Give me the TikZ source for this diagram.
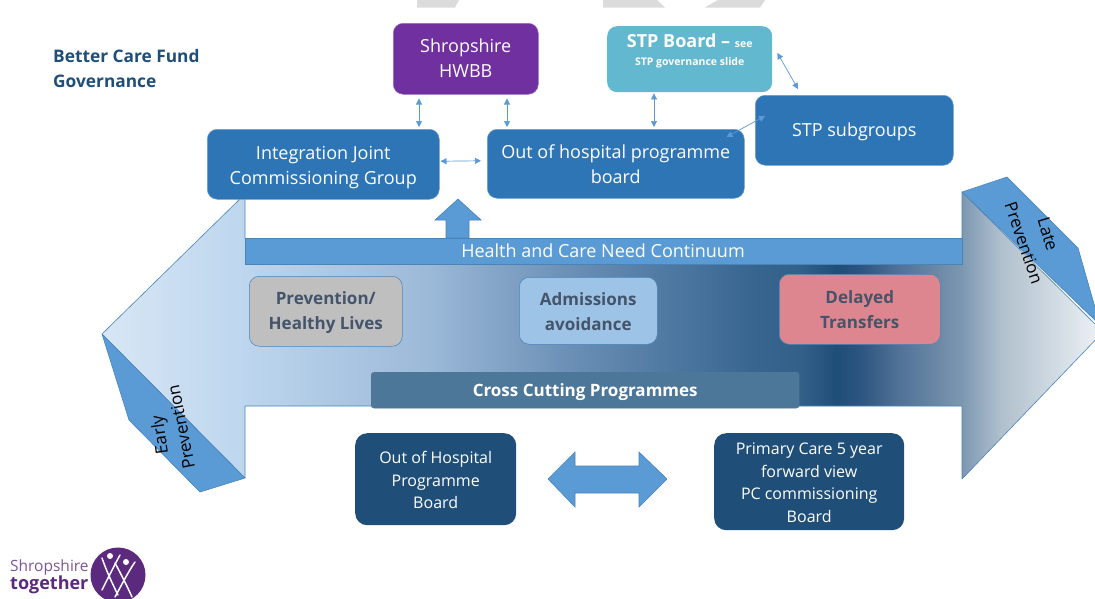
\documentclass[tikz,border=0pt]{standalone}
\usepackage{fontspec}
\setmainfont{Open Sans}
\usetikzlibrary{arrows.meta,calc}
\definecolor{midblue}{HTML}{2E75B6}
\definecolor{skyblue}{HTML}{5B9BD5}
\definecolor{navy}{HTML}{1F4E79}
\definecolor{hwbbpurple}{HTML}{7030A0}
\definecolor{stpteal}{HTML}{62B8CE}
\definecolor{logopurple}{HTML}{5B2A7E}
\definecolor{dull}{HTML}{44546A}
\definecolor{softgrey}{HTML}{BFBFBF}
\definecolor{softblue}{HTML}{9DC3E6}
\definecolor{softred}{HTML}{DE868F}
\definecolor{crossblue}{HTML}{4C7799}
\definecolor{sA}{HTML}{D8E6F4}
\definecolor{sB}{HTML}{BDD6EE}
\definecolor{sC}{HTML}{9CB9D8}
\definecolor{sD}{HTML}{6C90B6}
\definecolor{sE}{HTML}{386690}
\definecolor{sF}{HTML}{336089}
\definecolor{sG}{HTML}{1F4E79}
\definecolor{sH}{HTML}{2C5580}
\definecolor{sI}{HTML}{4F7196}
\definecolor{sJ}{HTML}{7B97B0}
\definecolor{sK}{HTML}{B0C0CD}
\definecolor{sL}{HTML}{EEF2F6}
\pgfdeclarehorizontalshading{bandshade}{100bp}{
 color(0bp)=(sA);
 color(25bp)=(sA);
 color(32.1bp)=(sB);
 color(41.3bp)=(sC);
 color(48.2bp)=(sD);
 color(57.4bp)=(sE);
 color(59.9bp)=(sF);
 color(61.7bp)=(sG);
 color(62.9bp)=(sH);
 color(64.7bp)=(sI);
 color(67.9bp)=(sJ);
 color(69.9bp)=(sK);
 color(75bp)=(sL);
 color(100bp)=(sL)}
\tikzset{
 x=1pt,y=-1pt,
 box/.style={rounded corners=10pt,draw=#1!70!white,line width=.5pt,fill=#1,inner sep=0pt,anchor=north west},
 boxtext/.style={text=white,align=center,inner sep=0pt,font=\fontsize{18}{25}\selectfont},
 softbox/.style={rounded corners=10pt,draw=skyblue!70!navy,line width=.5pt,fill=#1,inner sep=0pt,anchor=north west},
 softtext/.style={text=dull,align=center,inner sep=0pt,font=\fontsize{17}{25}\selectfont\bfseries},
 fold/.style={fill=skyblue,draw=skyblue!70!navy,line width=.6pt,line join=round},
 sidelabel/.style={font=\fontsize{17}{25}\selectfont,text=black,align=center,inner sep=0pt},
 link/.style={draw=skyblue,line width=.7pt,{Triangle[width=6pt,length=6pt]}-{Triangle[width=6pt,length=6pt]}},
 ghost/.style={fill=black!14,draw=none},
 blockarrow/.style={fill=skyblue,draw=skyblue!70!navy,line width=.6pt},
 darkbox/.style={rounded corners=12pt,fill=navy,inner sep=0pt,anchor=north west},
 darktext/.style={text=white,align=center,inner sep=0pt,font=\fontsize{16}{22.5}\selectfont}
}
\newcommand{\boxnode}[6]{\node[#1,minimum width=#4pt-#2pt,minimum height=#5pt-#3pt] (#6) at (#2,#3) {};}
\begin{document}
\begin{tikzpicture}
\useasboundingbox (0,0) rectangle (1095,598);
\clip (0,0) rectangle (1095,598);
\fill[white] (0,0) rectangle (1095,598);
% ghost shapes at the top edge
\fill[ghost] (417,0) -- (459,0) -- (455,7.5) -- (417,7.5) -- cycle;
\fill[ghost] (603,0) -- (657,0) -- (665,7.5) -- (603,7.5) -- cycle;
\fill[ghost] (718,0) -- (765,0) -- (760,7.5) -- (705,7.5) -- cycle;
% main double arrow
\shade[shading=bandshade,draw=none] (102,334) -- (245,194) -- (245,238) -- (962,238) -- (962,192) -- (1103,332) -- (962,479) -- (962,406) -- (245,406) -- (245,478) -- cycle;
\draw[skyblue!70!navy,line width=.6pt,line join=round] (102,334) -- (245,194) -- (245,238) (245,406) -- (245,478) -- (102,334) (962,238) -- (962,192) -- (1103,332) -- (962,479) -- (962,406) (245,406) -- (372,406) (799,406) -- (962,406);
% folded ends
\path[fold] (102,334) -- (129,420) -- (200,492) -- (245,478) -- cycle;
\path[fold] (962,192) -- (1007,177) -- (1078,248) -- (1100,325) -- cycle;
\node[sidelabel,rotate=98] (earlyt) at (161,435) {Early};
\node[sidelabel,rotate=101] (prevt) at (181,427) {Prevention};
\node[sidelabel,rotate=-73] (latel) at (1048,234) {Late};
\node[sidelabel,rotate=-71] (prevr) at (1024,243) {Prevention};
% band and up arrow
\path[blockarrow] (458,199) -- (481,220) -- (469,220) -- (469,238) -- (446,238) -- (446,220) -- (435,220) -- cycle;
\path[blockarrow] (245,238) rectangle (962,264);
\node[boxtext] (need) at (603,251) {Health and Care Need Continuum};
% title
\node[anchor=north west,align=left,inner sep=0pt,text=navy,font=\fontsize{17.3}{25}\selectfont\bfseries] (title) at (53,49.5) {Better Care Fund\\Governance};
% upper boxes
\boxnode{box=hwbbpurple}{393}{23}{538}{94}{hwbb}
\node[boxtext] (hwbbt) at ($(hwbb.center)+(0,-1)$) {Shropshire\\HWBB};
\boxnode{box=midblue}{207}{129}{439}{199}{ijcg}
\node[boxtext] (ijcgt) at ($(ijcg.center)+(0,3)$) {Integration Joint\\Commissioning Group};
\boxnode{box=midblue}{487}{129}{744}{198}{oohpb}
\node[boxtext] (oohpbt) at (oohpb.center) {Out of hospital programme\\board};
\boxnode{box=midblue}{755}{95}{953}{165}{subg}
\node[boxtext] (subgt) at ($(subg.center)+(0,2)$) {STP subgroups};
\node[rounded corners=10pt,fill=stpteal,minimum width=165pt,minimum height=66pt,anchor=north west,inner sep=0pt] (stp) at (607,26) {};
\node[text=white,align=center,inner sep=0pt,font=\bfseries\fontsize{18}{20}\selectfont] (stpt) at ($(stp.center)+(0,-8)$) {STP Board -- {\fontsize{10.5}{20}\selectfont see}\\[-2pt]{\fontsize{10.5}{12}\selectfont STP governance slide}};
% mid boxes
\boxnode{softbox=softgrey}{249}{276}{402}{346}{prev}
\node[softtext] (prevx) at ($(prev.center)+(0,1.5)$) {Prevention/\\Healthy Lives};
\boxnode{softbox=softblue}{519}{277}{657}{344}{adm}
\node[softtext] (admx) at ($(adm.center)+(0,1)$) {Admissions\\avoidance};
\boxnode{softbox=softred}{779}{274}{940}{344}{dtoc}
\node[softtext] (dtocx) at (dtoc.center) {Delayed\\Transfers};
\node[rounded corners=3pt,fill=crossblue,draw=crossblue,inner sep=0pt,minimum width=428pt,minimum height=36pt,anchor=north west] (cross) at (371,372) {};
\node[text=white,inner sep=0pt,font=\fontsize{17}{20}\selectfont\bfseries] (crosst) at ($(cross.center)+(0,2)$) {Cross Cutting Programmes};
% lower boxes
\node[darkbox,minimum width=161pt,minimum height=92pt] (ooh2) at (355,433) {};
\node[darktext] (ooh2t) at ($(ooh2.center)+(0,1)$) {Out of Hospital\\Programme\\Board};
\node[darkbox,minimum width=190pt,minimum height=97pt] (pc) at (714,433) {};
\node[darktext] (pct) at ($(pc.center)+(0,1)$) {Primary Care 5 year\\forward view\\PC commissioning\\Board};
\path[blockarrow] (548,479) -- (575,452) -- (575,466) -- (639,466) -- (639,452) -- (667,479) -- (639,507) -- (639,493) -- (575,493) -- (575,507) -- cycle;
% connectors
\draw[link] ($(hwbb.south west)+(26,4)$) -- ($(ijcg.north west)+(212,-2)$);
\draw[link] ($(hwbb.south west)+(114,4)$) -- ($(oohpb.north west)+(20,-2)$);
\draw[link] ($(stp.south west)+(47,1)$) -- ($(oohpb.north west)+(167,-2)$);
\draw[link] ($(ijcg.east)+(1,-3)$) -- ($(oohpb.west)+(-6,-3)$);
\draw[link] ($(stp.north east)+(5,27)$) -- ($(subg.north west)+(43,-6)$);
\draw[link] ($(oohpb.north east)+(-18,8)$) -- ($(subg.north west)+(10,21)$);
% logo
\node[anchor=west,inner sep=0pt,text=logopurple!80!white,font=\fontsize{15.5}{20}\selectfont] (lg1) at (10,567) {Shropshire};
\node[anchor=west,inner sep=0pt,text=logopurple,font=\fontsize{18}{20}\selectfont\bfseries] (lg2) at (10,585) {together};
\fill[logopurple] (118,575) circle (27.5);
\draw[white,line width=1.5pt,line cap=round] (102,558) .. controls (106,570) and (113,585) .. (118,595);
\draw[white,line width=1.5pt,line cap=round] (120,555) .. controls (113,568) and (106,582) .. (102,590);
\draw[white,line width=1.5pt,line cap=round] (115,563) .. controls (120,572) and (128,588) .. (132,597);
\draw[white,line width=1.5pt,line cap=round] (135,562) .. controls (128,572) and (120,588) .. (115,597);
\fill[white] (110,556) circle (3) (126,562) circle (3);
\end{tikzpicture}
\end{document}
